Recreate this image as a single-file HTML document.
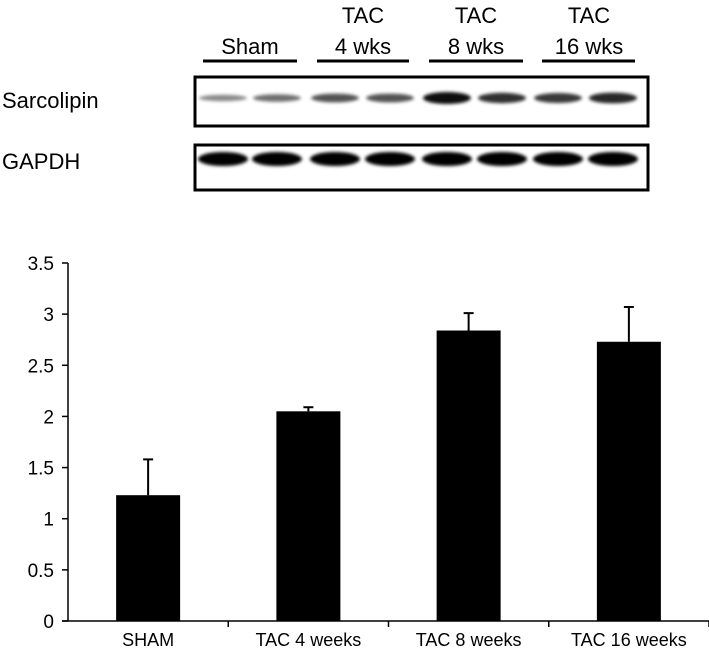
<!DOCTYPE html>
<html><head><meta charset="utf-8"><style>
body{margin:0;background:#fff;font-family:"Liberation Sans",sans-serif;}
svg text{font-family:"Liberation Sans",sans-serif;fill:#000;}
</style></head><body>
<svg width="709" height="654" viewBox="0 0 709 654">
<defs><filter id="blur" x="-20%" y="-50%" width="140%" height="200%"><feGaussianBlur stdDeviation="1.6"/></filter></defs>
<g>
  <g font-size="22" text-anchor="middle">
    <text x="250" y="54">Sham</text>
    <text x="363" y="23">TAC</text>
    <text x="363" y="54">4 wks</text>
    <text x="476" y="23">TAC</text>
    <text x="476" y="54">8 wks</text>
    <text x="589" y="23">TAC</text>
    <text x="589" y="54">16 wks</text>
  </g>
  <g stroke="#000" stroke-width="3">
    <line x1="203" y1="61" x2="297" y2="61"/><line x1="317" y1="61" x2="409" y2="61"/>
    <line x1="429" y1="61" x2="523" y2="61"/><line x1="542" y1="61" x2="635" y2="61"/>
  </g>
  <text x="2" y="108" font-size="22">Sarcolipin</text>
  <text x="2" y="169" font-size="22">GAPDH</text>
  <rect x="195" y="77" width="453" height="49" fill="none" stroke="#000" stroke-width="3"/>
  <rect x="195" y="145" width="453" height="45" fill="none" stroke="#000" stroke-width="3"/>
  <g filter="url(#blur)" id="bands"></g>
</g>
<g id="chart"></g>
</svg>
<script>
const categories=["SHAM","TAC 4 weeks","TAC 8 weeks","TAC 16 weeks"];
const values=[1.23,2.05,2.84,2.73];
const errors=[0.35,0.04,0.17,0.34];
const yTicks=[0,0.5,1,1.5,2,2.5,3,3.5];
const slnIntensity=[0.3,0.45,0.6,0.6,1,0.8,0.75,0.85];
const NS="http://www.w3.org/2000/svg";
function mk(t,a,p){const e=document.createElementNS(NS,t);for(const k in a)e.setAttribute(k,a[k]);p.appendChild(e);return e;}
const bands=document.getElementById('bands');
const laneX=[223,277,335,390,447,502,558,613];
laneX.forEach((x,i)=>{
  const s=slnIntensity[i];
  const b=mk('ellipse',{cx:x,cy:98,rx:24,ry:2+4*s,fill:'#000','fill-opacity':0.25+0.7*s},bands);
  
  
  const g=mk('ellipse',{cx:x,cy:159,rx:25,ry:7,fill:'#000'},bands);
  
  
});
const chart=document.getElementById('chart');
const x0=68,x1=709,y0=621,yTop=263,yMax=3.5;
const yS=v=>y0-(v/yMax)*(y0-yTop);
const cw=(x1-x0)/categories.length;
const xC=i=>x0+cw*(i+0.5);
const ax=mk('line',{x1:x0,y1:yTop,x2:x0,y2:y0,stroke:'#000','stroke-width':1.5},chart);

const xa=mk('line',{x1:x0-6,y1:y0,x2:x1,y2:y0,stroke:'#000','stroke-width':1.5},chart);

yTicks.forEach(v=>{
  mk('line',{x1:x0-6,y1:yS(v),x2:x0,y2:yS(v),stroke:'#000','stroke-width':1.5},chart);
  const t=mk('text',{x:x0-14,y:yS(v)+7,'font-size':19,'text-anchor':'end'},chart);
  t.textContent=v;
  
  
});
for(let i=1;i<=categories.length;i++){mk('line',{x1:x0+cw*i,y1:y0,x2:x0+cw*i,y2:y0+6,stroke:'#000','stroke-width':1.5},chart);}
categories.forEach((c,i)=>{
  const cx=xC(i),bw=64;
  const e=mk('line',{x1:cx,y1:yS(values[i]),x2:cx,y2:yS(values[i]+errors[i]),stroke:'#000','stroke-width':2},chart);
  
  mk('line',{x1:cx-5,y1:yS(values[i]+errors[i]),x2:cx+5,y2:yS(values[i]+errors[i]),stroke:'#000','stroke-width':2},chart);
  const r=mk('rect',{x:cx-bw/2,y:yS(values[i]),width:bw,height:y0-yS(values[i]),fill:'#000'},chart);
  
  
  const t=mk('text',{x:cx,y:646,'font-size':18,'text-anchor':'middle'},chart);
  t.textContent=c;
  
  
});
</script>
</body></html>
